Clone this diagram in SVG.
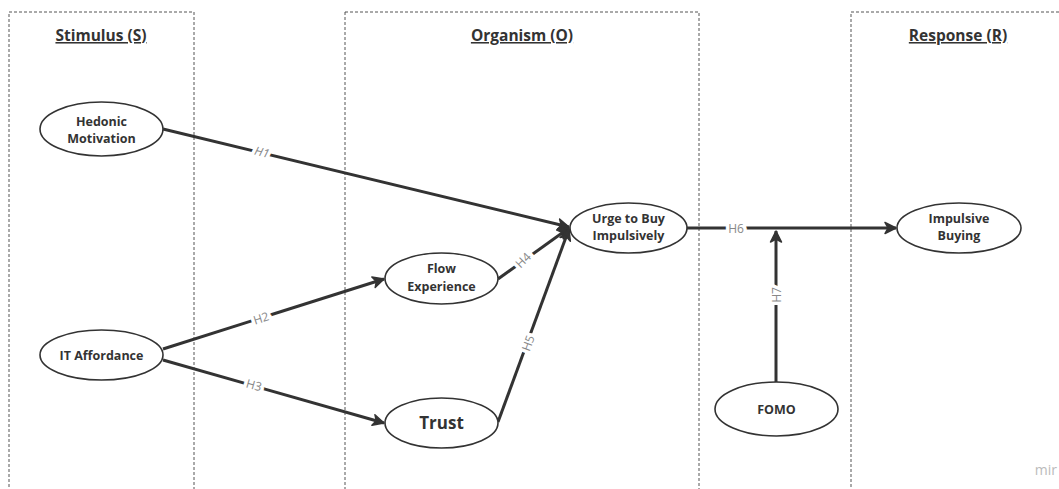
<svg xmlns="http://www.w3.org/2000/svg" width="1059" height="489" viewBox="0 0 1059 489">
<defs>
<style>
.zone{fill:none;stroke:#555;stroke-width:1;stroke-dasharray:3 2}
.title{font-family:"Open Sans","Liberation Sans",sans-serif;font-weight:700;font-size:15.5px;fill:#333;text-anchor:middle;text-decoration:underline}
.node ellipse{fill:#fff;stroke:#333;stroke-width:1.6}
.node text{font-family:"Open Sans","Liberation Sans",sans-serif;font-weight:700;font-size:12.5px;fill:#333;text-anchor:middle}
.edge{fill:none;stroke:#333;stroke-width:3}
.lbl{font-family:"Open Sans","Liberation Sans",sans-serif;font-size:12px;fill:#888;text-anchor:middle;dominant-baseline:central;stroke:#fff;stroke-width:7;paint-order:stroke}
</style>
<marker id="arr" viewBox="0 0 14 14" refX="12" refY="7" markerWidth="14" markerHeight="14" markerUnits="userSpaceOnUse" orient="auto">
<path d="M1,1.5 L12,7 L1,12.5 L4,7 Z" fill="#333" stroke="#333" stroke-width="1.5" stroke-linejoin="round"/>
</marker>
</defs>
<rect width="1059" height="489" fill="#fff"/>
<g id="zones">
<rect class="zone" x="9" y="12" width="185" height="480"/>
<rect class="zone" x="345" y="12" width="354" height="480"/>
<rect class="zone" x="851" y="12" width="220" height="480"/>
<text class="title" x="101" y="41">Stimulus (S)</text>
<text class="title" x="522" y="41">Organism (O)</text>
<text class="title" x="958" y="41">Response (R)</text>
</g>
<g id="connectors">
<path class="edge" d="M163,129 L569,227" marker-end="url(#arr)"/>
<path class="edge" d="M163,349 L384,279" marker-end="url(#arr)"/>
<path class="edge" d="M163,360 L384,423" marker-end="url(#arr)"/>
<path class="edge" d="M498,279 L569,228" marker-end="url(#arr)"/>
<path class="edge" d="M498,422 L569,229" marker-end="url(#arr)"/>
<path class="edge" d="M687,228 L896,228" marker-end="url(#arr)"/>
<path class="edge" d="M776,382 L776,231" marker-end="url(#arr)"/>
<text class="lbl" transform="translate(262,152) rotate(13.7)" font-style="italic">H1</text>
<text class="lbl" transform="translate(261,318) rotate(-17.7)">H2</text>
<text class="lbl" transform="translate(254,385) rotate(15.9)">H3</text>
<text class="lbl" transform="translate(523,260) rotate(-45)">H4</text>
<text class="lbl" transform="translate(528,343) rotate(-69.6)">H5</text>
<text class="lbl" transform="translate(736,228)">H6</text>
<text class="lbl" transform="translate(776,295) rotate(-90)">H7</text>
</g>
<g id="hedonic" class="node">
<ellipse cx="101.5" cy="129" rx="61.5" ry="27"/>
<text x="101.5" y="126">Hedonic</text>
<text x="101.5" y="143">Motivation</text>
</g>
<g id="it-affordance" class="node">
<ellipse cx="101.5" cy="355" rx="61.5" ry="25"/>
<text x="101.5" y="359.5">IT Affordance</text>
</g>
<g id="flow" class="node">
<ellipse cx="441.5" cy="278.5" rx="56.5" ry="25.5"/>
<text x="441.5" y="273">Flow</text>
<text x="441.5" y="291">Experience</text>
</g>
<g id="trust" class="node">
<ellipse cx="441.5" cy="423" rx="56.5" ry="25"/>
<text x="441.5" y="429" style="font-size:17px">Trust</text>
</g>
<g id="urge" class="node">
<ellipse cx="628.5" cy="228" rx="58.5" ry="25"/>
<text x="628.5" y="223">Urge to Buy</text>
<text x="628.5" y="240">Impulsively</text>
</g>
<g id="impulsive-buying" class="node">
<ellipse cx="959" cy="228" rx="62" ry="25"/>
<text x="959" y="223">Impulsive</text>
<text x="959" y="240">Buying</text>
</g>
<g id="fomo" class="node">
<ellipse cx="776.5" cy="409" rx="61.5" ry="27"/>
<text x="776.5" y="413.5">FOMO</text>
</g>
<text x="1057" y="475" text-anchor="end" font-family="'Open Sans','Liberation Sans',sans-serif" font-size="14" fill="#bbb">mir</text>
</svg>
